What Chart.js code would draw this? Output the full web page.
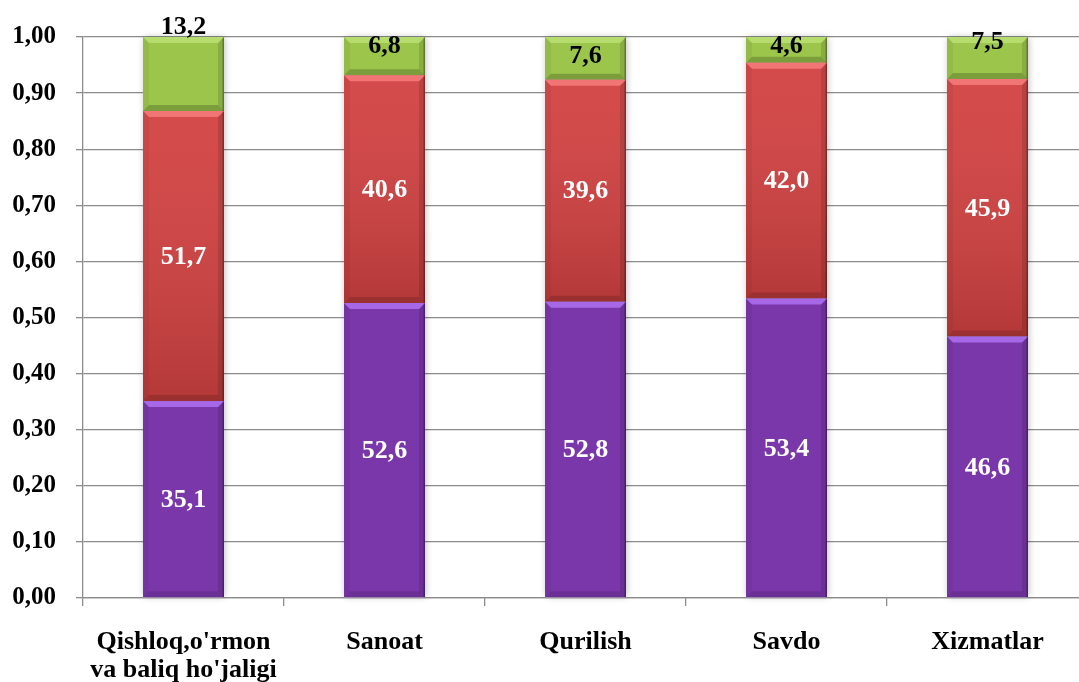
<!DOCTYPE html>
<html>
<head>
<meta charset="utf-8">
<script src="https://cdn.jsdelivr.net/npm/chart.js@4/dist/chart.umd.min.js"></script>
<style>
  html, body { margin: 0; padding: 0; background: #fff; overflow: hidden; }
  #wrap { width: 1088px; height: 682px; position: relative; }
</style>
</head>
<body>
<div id="wrap"><canvas id="c"></canvas></div>
<script>
const categories = [["Qishloq,o'rmon", "va baliq ho'jaligi"], "Sanoat", "Qurilish", "Savdo", "Xizmatlar"];
const seriesA = [35.1, 52.6, 52.8, 53.4, 46.6];   // purple (bottom)
const seriesB = [51.7, 40.6, 39.6, 42.0, 45.9];   // red (middle)
const seriesC = [13.2, 6.8, 7.6, 4.6, 7.5];       // green (top)
const yTicks = [0, 0.1, 0.2, 0.3, 0.4, 0.5, 0.6, 0.7, 0.8, 0.9, 1.0];

// label vertical offsets for the top (green) labels, in px (style only)
const greenLabelShift = [-48, -11, -3, -5, -17];

const FONT = '"Liberation Serif", "Times New Roman", serif';
const GRID = '#8c8c8c';

function rectOf(el) {
  const p = el.getProps(['x', 'y', 'base', 'width'], true);
  return { l: p.x - p.width / 2, r: p.x + p.width / 2, t: Math.min(p.y, p.base), b: Math.max(p.y, p.base), x: p.x, y: p.y, base: p.base };
}

const shadowPlugin = {
  id: 'barShadow',
  beforeDatasetsDraw(chart) {
    const ctx = chart.ctx;
    const n = chart.data.labels.length;
    ctx.save();
    for (let i = 0; i < n; i++) {
      let l = Infinity, r = -Infinity, t = Infinity, b = -Infinity;
      chart.data.datasets.forEach((ds, di) => {
        const el = chart.getDatasetMeta(di).data[i];
        if (!el) return;
        const q = rectOf(el);
        l = Math.min(l, q.l); r = Math.max(r, q.r); t = Math.min(t, q.t); b = Math.max(b, q.b);
      });
      ctx.shadowColor = 'rgba(0,0,0,0.28)';
      ctx.shadowBlur = 7;
      ctx.shadowOffsetX = 1;
      ctx.shadowOffsetY = 0;
      ctx.fillStyle = '#ffffff';
      ctx.fillRect(l, t, r - l, b - t);
    }
    ctx.restore();
  }
};

const bevelPlugin = {
  id: 'bevel',
  afterDatasetsDraw(chart) {
    const ctx = chart.ctx;
    const hi = ['rgba(185,125,255,0.7)', 'rgba(255,135,135,0.7)', 'rgba(195,230,125,0.7)'];
    const lo = ['rgba(0,0,0,0.12)', 'rgba(0,0,0,0.14)', 'rgba(0,0,0,0.2)'];
    chart.data.datasets.forEach((ds, di) => {
      const meta = chart.getDatasetMeta(di);
      meta.data.forEach((el) => {
        const { l, r, t, b } = rectOf(el);
        const bv = Math.min(6, (b - t) / 2);
        ctx.save();
        if (di === 1) {
          const g = ctx.createLinearGradient(0, t, 0, b);
          g.addColorStop(0, 'rgba(255,255,255,0.05)');
          g.addColorStop(1, 'rgba(0,0,0,0.14)');
          ctx.fillStyle = g;
          ctx.fillRect(l, t, r - l, b - t);
        }
        // left edge
        ctx.fillStyle = 'rgba(0,0,0,0.05)';
        ctx.beginPath();
        ctx.moveTo(l, t); ctx.lineTo(l + bv, t + bv); ctx.lineTo(l + bv, b - bv); ctx.lineTo(l, b); ctx.closePath(); ctx.fill();
        // right edge
        ctx.fillStyle = 'rgba(0,0,0,0.12)';
        ctx.beginPath();
        ctx.moveTo(r, t); ctx.lineTo(r - bv, t + bv); ctx.lineTo(r - bv, b - bv); ctx.lineTo(r, b); ctx.closePath(); ctx.fill();
        ctx.fillStyle = 'rgba(0,0,0,0.3)';
        ctx.fillRect(r - 1.5, t, 1.5, b - t);
        // bottom edge
        ctx.fillStyle = lo[di];
        ctx.beginPath();
        ctx.moveTo(l, b); ctx.lineTo(l + bv, b - bv); ctx.lineTo(r - bv, b - bv); ctx.lineTo(r, b); ctx.closePath(); ctx.fill();
        // top highlight
        ctx.fillStyle = hi[di];
        ctx.beginPath();
        ctx.moveTo(l, t); ctx.lineTo(r, t); ctx.lineTo(r - bv, t + bv); ctx.lineTo(l + bv, t + bv); ctx.closePath(); ctx.fill();
        ctx.restore();
      });
    });
  }
};

const labelPlugin = {
  id: 'vlabels',
  afterDatasetsDraw(chart) {
    const ctx = chart.ctx;
    const raw = [seriesA, seriesB, seriesC];
    ctx.save();
    ctx.font = 'bold 26px ' + FONT;
    ctx.textAlign = 'center';
    ctx.textBaseline = 'middle';
    chart.data.datasets.forEach((ds, di) => {
      const meta = chart.getDatasetMeta(di);
      meta.data.forEach((el, i) => {
        const p = el.getProps(['x', 'y', 'base'], true);
        let cy = (p.y + p.base) / 2 + 1;
        if (di === 2) cy += greenLabelShift[i];
        ctx.fillStyle = di === 2 ? '#000' : '#fff';
        ctx.fillText(raw[di][i].toFixed(1).replace('.', ','), p.x, cy);
      });
    });
    ctx.restore();
  }
};

new Chart(document.getElementById('c'), {
  type: 'bar',
  data: {
    labels: categories,
    datasets: [
      { label: 'A', data: seriesA.map(v => v / 100), backgroundColor: '#7a37aa' },
      { label: 'B', data: seriesB.map(v => v / 100), backgroundColor: '#d24141' },
      { label: 'C', data: seriesC.map(v => v / 100), backgroundColor: '#9cc54b' }
    ]
  },
  options: {
    responsive: true,
    maintainAspectRatio: false,
    animation: false,
    events: [],
    layout: { padding: { top: 37, right: 0, left: 0, bottom: 0 } },
    datasets: { bar: { barPercentage: 1, categoryPercentage: 0.403, borderWidth: 0 } },
    plugins: { legend: { display: false }, tooltip: { enabled: false } },
    scales: {
      x: {
        stacked: true,
        grid: { drawOnChartArea: false, drawTicks: true, tickLength: 8, color: GRID, lineWidth: 1.3 },
        border: { color: GRID, width: 1.3 },
        ticks: { color: '#000', font: { family: FONT, size: 26, weight: 'bold', lineHeight: 1.08 }, padding: 22, maxRotation: 0, autoSkip: false },
        afterFit(s) { s.height = 84; }
      },
      y: {
        stacked: true,
        min: 0, max: 1,
        afterBuildTicks(s) { s.ticks = yTicks.map(v => ({ value: v })); },
        grid: { color: GRID, lineWidth: 1.3, tickLength: 7 },
        border: { color: GRID, width: 1.3 },
        ticks: {
          color: '#000', padding: 20,
          font: { family: FONT, size: 25, weight: 'bold' },
          callback: v => v.toFixed(2).replace('.', ',')
        },
        afterFit(s) { s.width = 83; }
      }
    }
  },
  plugins: [shadowPlugin, bevelPlugin, labelPlugin]
});
</script>
</body>
</html>
